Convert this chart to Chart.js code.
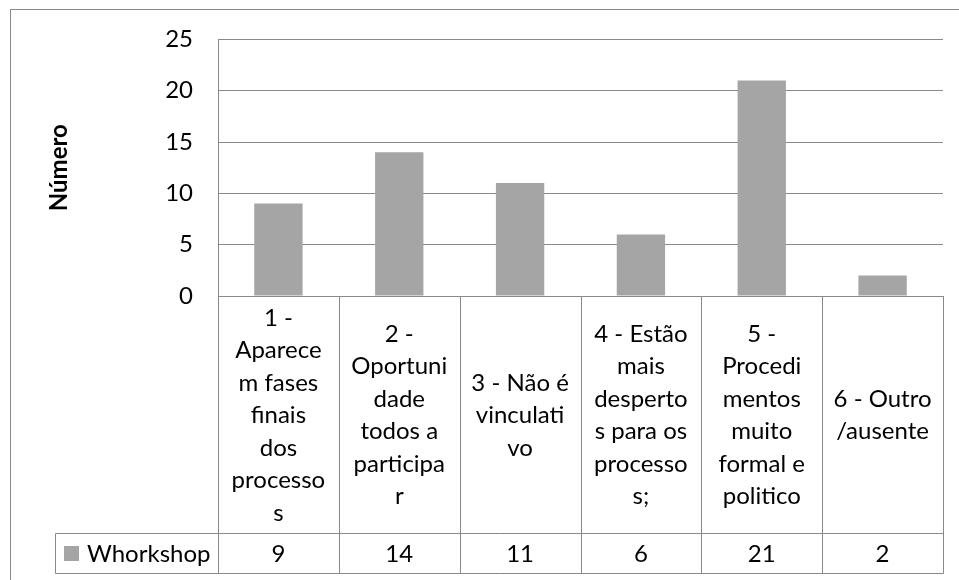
<!DOCTYPE html>
<html><head><meta charset="utf-8">
<script src="https://cdn.jsdelivr.net/npm/chart.js@4/dist/chart.umd.min.js"></script>
<style>html,body{margin:0;padding:0;background:#fff}#wrap{width:959px;height:580px;position:relative}</style>
</head><body><div id="wrap"><canvas id="c" width="959" height="580"></canvas></div>
<script>
// ---- data ----
const categories = [
  "1 - Aparecem fases finais dos processos",
  "2 - Oportunidade todos a participar",
  "3 - Não é vinculativo",
  "4 - Estão mais despertos para os processos;",
  "5 - Procedimentos muito formal e politico",
  "6 - Outro /ausente"
];
const categoryLines = [
  ["1 -", "Aparece", "m fases", "finais", "dos", "processo", "s"],
  ["2 -", "Oportuni", "dade", "todos a", "participa", "r"],
  ["3 - Não é", "vinculati", "vo"],
  ["4 - Estão", "mais", "desperto", "s para os", "processo", "s;"],
  ["5 -", "Procedi", "mentos", "muito", "formal e", "politico"],
  ["6 - Outro", "/ausente"]
];
const seriesName = "Whorkshop";
const values = [9, 14, 11, 6, 21, 2];
const yTicks = [0, 5, 10, 15, 20, 25];
const yTitle = "Número";

// ---- styles ----
const FONT = 'Lato, "Open Sans", sans-serif';
const LINE = '#898989';
const BAR = '#a5a5a5';

const tablePlugin = {
  id: 'dataTable',
  beforeDraw(chart) {
    const ctx = chart.ctx;
    ctx.save();
    ctx.fillStyle = '#fff';
    ctx.fillRect(0, 0, chart.width, chart.height);
    ctx.strokeStyle = LINE; ctx.lineWidth = 1;
    ctx.strokeRect(10.5, 9.5, 960, 580);
    ctx.restore();
  },
  afterDraw(chart) {
    const {ctx, chartArea, scales: {x}} = chart;
    const n = categories.length;
    const colW = (chartArea.right - chartArea.left) / n;
    const top = chartArea.bottom;
    const mid = top + 237;
    const bot = mid + 40;
    const legL = 55;
    const bnd = [];
    for (let i = 0; i <= n; i++) bnd.push(Math.round(x.getPixelForValue(i) - colW / 2) + 0.5);
    ctx.save();
    ctx.strokeStyle = LINE; ctx.lineWidth = 1;
    ctx.beginPath();
    ctx.moveTo(legL + 0.5, mid + 0.5); ctx.lineTo(bnd[n], mid + 0.5);
    ctx.moveTo(legL + 0.5, bot + 0.5); ctx.lineTo(bnd[n], bot + 0.5);
    ctx.moveTo(legL + 0.5, mid + 0.5); ctx.lineTo(legL + 0.5, bot + 0.5);
    for (let i = 0; i <= n; i++) { ctx.moveTo(bnd[i], top); ctx.lineTo(bnd[i], bot + 0.5); }
    ctx.stroke();

    ctx.fillStyle = '#000';
    ctx.font = '24px ' + FONT;
    ctx.textAlign = 'center';
    ctx.textBaseline = 'middle';
    const lh = 32.5;
    const cy = (top + mid) / 2 + 1;
    for (let i = 0; i < n; i++) {
      const cx = x.getPixelForValue(i);
      const lines = categoryLines[i];
      const y0 = cy - (lines.length - 1) * lh / 2;
      lines.forEach((t, k) => ctx.fillText(t, cx, y0 + k * lh));
      ctx.fillText(String(values[i]), cx, (mid + bot) / 2 + 1);
    }
    // legend key
    ctx.fillStyle = BAR;
    ctx.fillRect(64, 546, 15, 15);
    ctx.fillStyle = '#000';
    ctx.textAlign = 'left';
    ctx.fillText(seriesName, 87, (mid + bot) / 2 + 1);
    ctx.restore();
  }
};

new Chart(document.getElementById('c'), {
  type: 'bar',
  data: {
    labels: categories,
    datasets: [{
      label: seriesName,
      data: values,
      backgroundColor: BAR,
      borderWidth: 0,
      categoryPercentage: 1,
      barPercentage: 0.4
    }]
  },
  options: {
    responsive: false,
    animation: false,
    devicePixelRatio: 1,
    layout: {padding: {left: 10, top: 39, right: 16, bottom: 284}},
    plugins: {legend: {display: false}, tooltip: {enabled: false}},
    scales: {
      x: {
        ticks: {display: false},
        grid: {display: false, drawTicks: false},
        border: {display: false},
        afterFit(s) { s.height = 0; }
      },
      y: {
        min: 0, max: 25,
        afterBuildTicks(s) { s.ticks = yTicks.map(v => ({value: v})); },
        ticks: {padding: 25, color: '#000', font: {family: FONT, size: 24}},
        grid: {color: LINE, drawTicks: false},
        border: {display: true, color: LINE},
        title: {display: true, text: yTitle, color: '#000',
                font: {family: FONT, size: 24, weight: 'bold'}, padding: {top: 35, bottom: 0}},
        afterFit(s) { s.width = 208; }
      }
    }
  },
  plugins: [tablePlugin]
});
</script>
</body></html>
